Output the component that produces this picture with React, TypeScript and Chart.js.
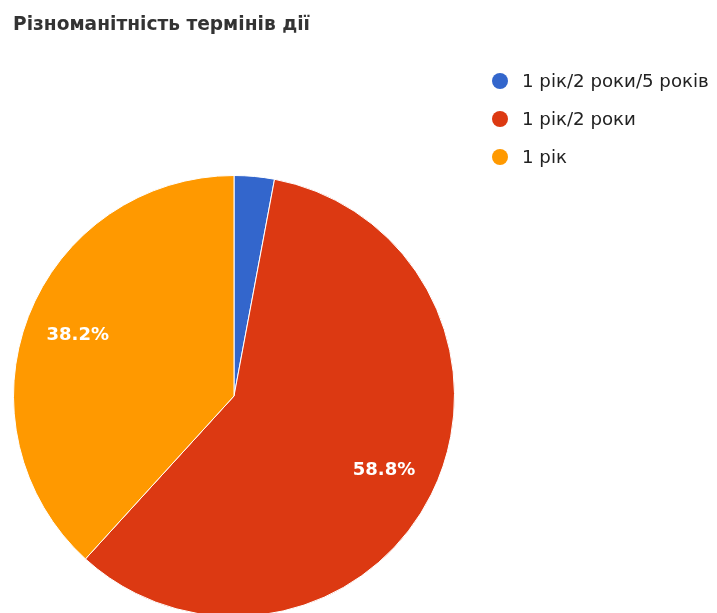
import React, { useEffect, useRef } from "react";
import { Chart, registerables } from "chart.js";

Chart.register(...registerables);

const chartTitle = "Різноманітність термінів дії";
const categories = ["1 рік/2 роки/5 років", "1 рік/2 роки", "1 рік"];
const counts = [1, 20, 13];
const sliceColors = ["#3366CC", "#DC3912", "#FF9900"];

const overlayPlugin = {
  id: "overlay",
  afterDatasetsDraw(chart: any) {
    const ctx = chart.ctx as CanvasRenderingContext2D;
    const meta = chart.getDatasetMeta(0);
    const data = chart.data.datasets[0].data as number[];
    const total = data.reduce((a, b) => a + b, 0);
    ctx.save();
    ctx.fillStyle = "#ffffff";
    ctx.font = "bold 18px 'DejaVu Sans', sans-serif";
    ctx.textAlign = "center";
    ctx.textBaseline = "middle";
    meta.data.forEach((arc: any, i: number) => {
      const pct = (data[i] / total) * 100;
      if (pct < 5) return;
      const { x, y, startAngle, endAngle, outerRadius } = arc.getProps(
        ["x", "y", "startAngle", "endAngle", "outerRadius"],
        true
      );
      const mid = (startAngle + endAngle) / 2;
      const r = outerRadius * 0.76;
      ctx.fillText(pct.toFixed(1) + "%", x + Math.cos(mid) * r, y + Math.sin(mid) * r);
    });
    ctx.restore();
  },
  afterDraw(chart: any) {
    const ctx = chart.ctx as CanvasRenderingContext2D;
    ctx.save();
    ctx.textAlign = "left";
    ctx.textBaseline = "alphabetic";
    ctx.fillStyle = "#333333";
    ctx.font = "bold 18.6px 'DejaVu Sans', sans-serif";
    ctx.fillText(chartTitle, 13, 30);
    ctx.font = "18.2px 'DejaVu Sans', sans-serif";
    categories.forEach((label, i) => {
      const cy = 81 + i * 38;
      ctx.beginPath();
      ctx.arc(500, cy, 8, 0, Math.PI * 2);
      ctx.fillStyle = sliceColors[i];
      ctx.fill();
      ctx.fillStyle = "#222222";
      ctx.fillText(label, 522, cy + 6);
    });
    ctx.restore();
  },
};

export default function App() {
  const ref = useRef<HTMLCanvasElement | null>(null);
  useEffect(() => {
    if (!ref.current) return;
    const chart = new Chart(ref.current, {
      type: "pie",
      data: {
        labels: categories,
        datasets: [
          {
            data: counts,
            backgroundColor: sliceColors,
            borderColor: "#ffffff",
            borderWidth: 1,
          },
        ],
      },
      options: {
        responsive: false,
        animation: false,
        devicePixelRatio: 1,
        layout: { padding: { left: 13, top: 175, right: 262, bottom: 43 } },
        plugins: {
          legend: { display: false },
          title: { display: false },
          tooltip: { enabled: false },
        },
      },
      plugins: [overlayPlugin],
    });
    return () => chart.destroy();
  }, []);
  return (
    <div
      style={{
        position: "fixed",
        left: 0,
        top: 0,
        width: 717,
        height: 613,
        overflow: "hidden",
        background: "#ffffff",
      }}
    >
      <canvas ref={ref} width={717} height={660} style={{ display: "block" }} />
    </div>
  );
}
